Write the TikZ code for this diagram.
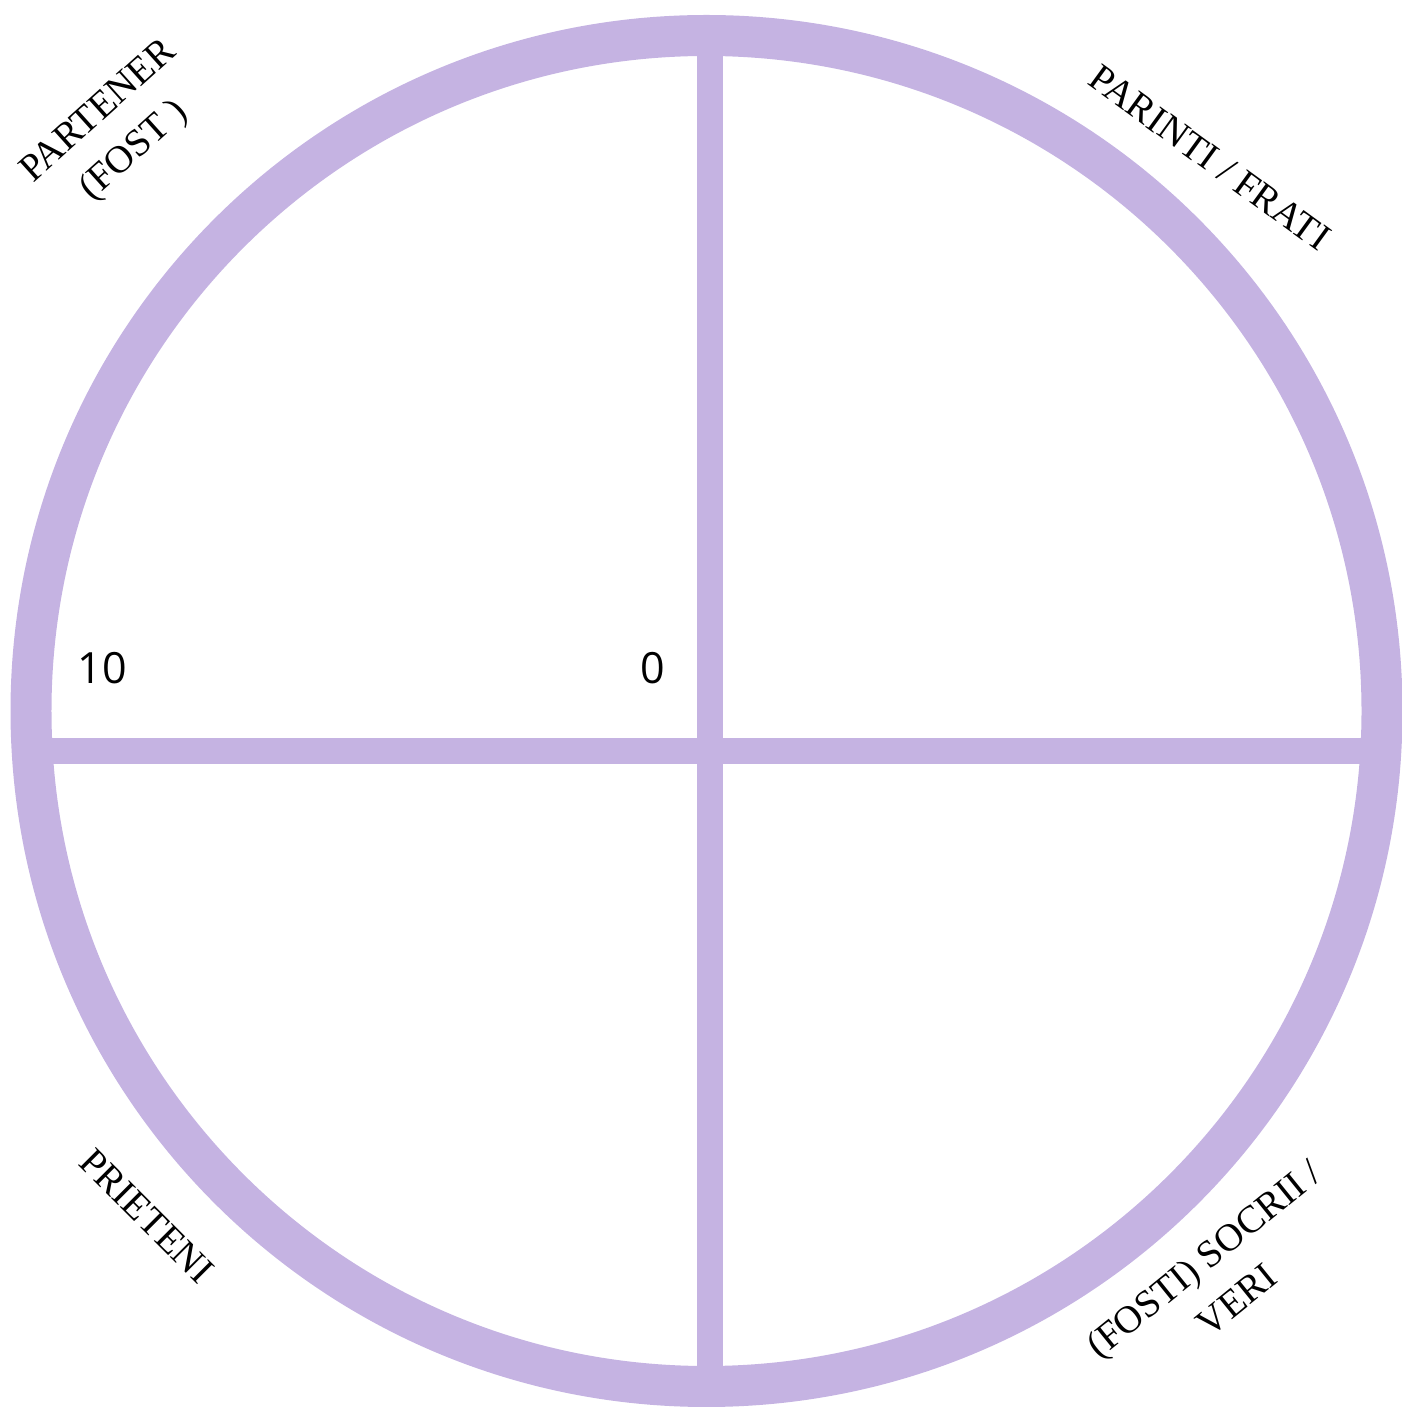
\documentclass[tikz,border=0pt]{standalone}
\usepackage{fontspec}
\setmainfont{Liberation Serif}
\newfontfamily\numfont{Open Sans}
\usepackage{tikz}
\usetikzlibrary{positioning}
\definecolor{lavender}{RGB}{197,179,226}

\begin{document}
\begin{tikzpicture}[
            x=0.02cm, y=0.02cm,
            ring/.style={draw=lavender, line width=0.82cm},
            axis/.style={draw=lavender, line width=0.52cm},
            lbl/.style={font=\fontsize{22}{30}\selectfont, align=center, inner sep=0pt},
            num/.style={font=\numfont\fontsize{24.5}{28}\selectfont, inner sep=0pt}
        ]
        \useasboundingbox (0,0) rectangle (1402,1407);
        \coordinate (c) at (706.5,696);
        % axes, under the ring
        \draw[axis] (709.7,20) -- (709.7,1372);
        \draw[axis] (31,656) -- (1382,656);
        \draw[ring] (c) circle[radius=675.5];
        % quadrant labels
        \node[lbl, rotate=42]  (partener) at (117,1275) {PARTENER\\(FOST )};
        \node[lbl, rotate=-36] (parinti)  at (1210,1249) {PARINTI / FRATI};
        \node[lbl, rotate=-45] (prieteni) at (147,191)  {PRIETENI};
        \node[lbl, rotate=39]  (socrii)   at (1220,128) {(FOSTI) SOCRII /\\VERI};
        % scale
        \node[num] (ten)  at (102,739) {10};
        \node[num] (zero) at (653,739) {0};
    \end{tikzpicture}
\end{document}
